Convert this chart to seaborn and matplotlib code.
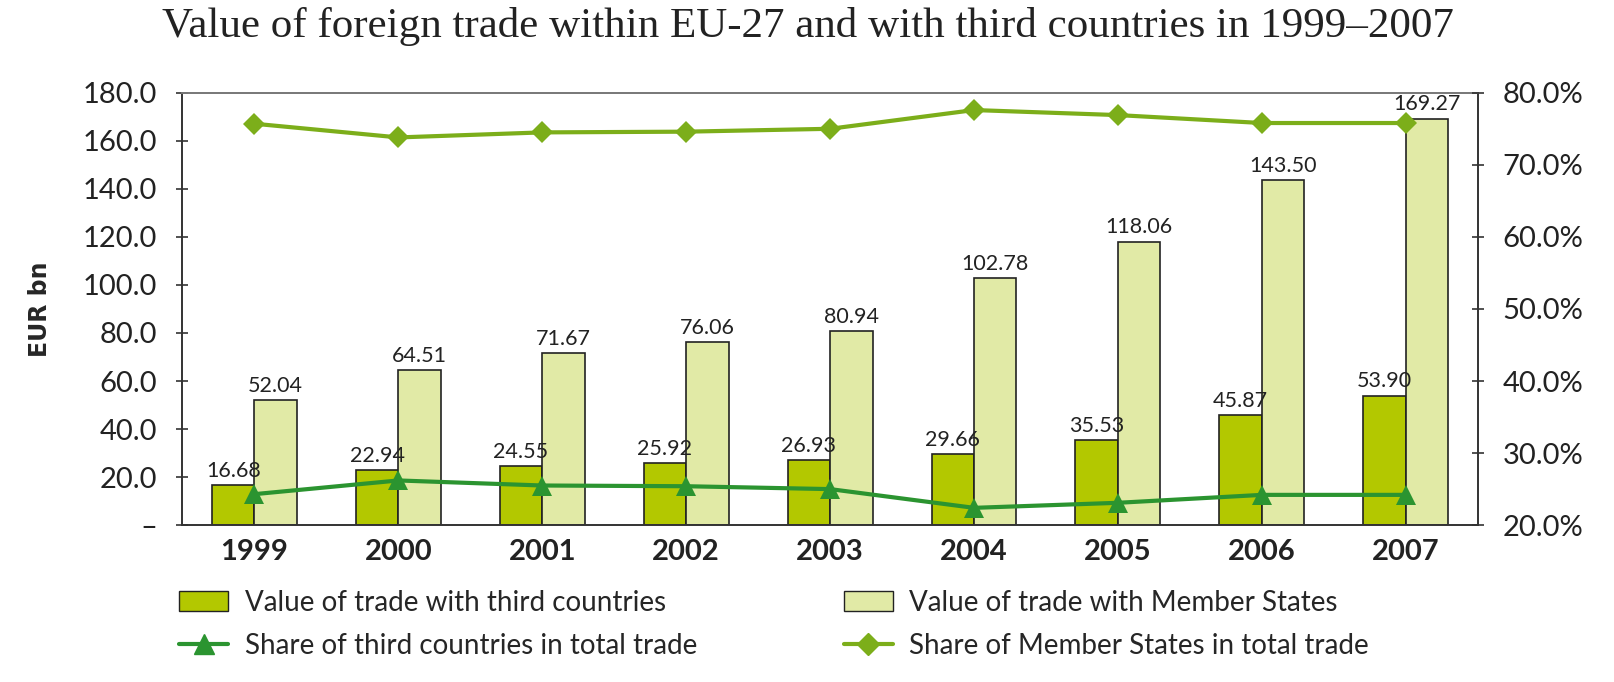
import numpy as np
import pandas as pd
import seaborn as sns
import matplotlib.pyplot as plt
from matplotlib.ticker import FixedLocator, FuncFormatter
from matplotlib.patches import Patch
from matplotlib.lines import Line2D

# data
years = ['1999', '2000', '2001', '2002', '2003', '2004', '2005', '2006', '2007']
third_countries = [16.68, 22.94, 24.55, 25.92, 26.93, 29.66, 35.53, 45.87, 53.90]
member_states = [52.04, 64.51, 71.67, 76.06, 80.94, 102.78, 118.06, 143.50, 169.27]
share_third = [24.3, 26.2, 25.5, 25.4, 25.0, 22.4, 23.1, 24.2, 24.2]
share_member = [75.7, 73.8, 74.5, 74.6, 75.0, 77.6, 76.9, 75.8, 75.8]

lbl_third = 'Value of trade with third countries'
lbl_member = 'Value of trade with Member States'
lbl_share_third = 'Share of third countries in total trade'
lbl_share_member = 'Share of Member States in total trade'

c_dark, c_light = '#b3c800', '#e1eaa6'
c_line_third, c_line_member = '#2b9430', '#7cae1a'

sns.set_style('white')
plt.rcParams['font.family'] = ['Lato', 'DejaVu Sans']

df = pd.DataFrame({
    'year': years * 2,
    'value': third_countries + member_states,
    'series': [lbl_third] * len(years) + [lbl_member] * len(years),
})

fig = plt.figure(figsize=(16.15, 6.82), dpi=100)
ax = fig.add_axes([0.113, 0.230, 0.802, 0.634])

sns.barplot(data=df, x='year', y='value', hue='series', ax=ax,
            palette=[c_dark, c_light], width=0.59, edgecolor='#222222',
            linewidth=1.2, saturation=1, legend=False)

for cont in ax.containers:
    ax.bar_label(cont, fmt='%.2f', fontsize=15.5, padding=3, color='#222222')

ax.set_ylim(0, 180)
ax.set_xlim(-0.5, len(years) - 0.5)
ax.set_yticks(np.arange(0, 181, 20))
ax.yaxis.set_major_formatter(FuncFormatter(lambda v, p: '–' if v == 0 else f'{v:.1f}'))
ax.set_xlabel('')
ax.set_ylabel('EUR bn', fontsize=17, fontweight='bold', family='DejaVu Sans', labelpad=22)
ax.tick_params(axis='y', labelsize=21, direction='inout', length=8, width=1.2, pad=14,
               colors='#333333', labelcolor='#222222')
ax.tick_params(axis='x', which='major', labelsize=21, length=0, pad=10, labelcolor='#222222')
ax.xaxis.set_minor_locator(FixedLocator(np.arange(0.5, len(years) - 1, 1)))
ax.tick_params(axis='x', which='minor', direction='inout', length=8, width=1.2, colors='#333333')
for lab in ax.get_xticklabels():
    lab.set_fontweight('bold')

for side in ['left', 'bottom', 'right']:
    ax.spines[side].set_color('#333333')
    ax.spines[side].set_linewidth(1.4)
ax.spines['top'].set_color('#777777')
ax.spines['top'].set_linewidth(1.4)

ax2 = ax.twinx()
xs = np.arange(len(years))
sns.lineplot(x=xs, y=share_third, ax=ax2, color=c_line_third, marker='^',
             markersize=14, markeredgewidth=0, linewidth=3)
sns.lineplot(x=xs, y=share_member, ax=ax2, color=c_line_member, marker='D',
             markersize=11, markeredgewidth=0, linewidth=3)
ax2.set_ylim(20, 80)
ax2.set_yticks(np.arange(20, 81, 10))
ax2.yaxis.set_major_formatter(FuncFormatter(lambda v, p: f'{v:.1f}%'))
ax2.tick_params(axis='y', labelsize=21, direction='inout', length=8, width=1.2, pad=14,
                colors='#333333', labelcolor='#222222')
for s in ax2.spines.values():
    s.set_visible(False)

fig.suptitle('Value of foreign trade within EU-27 and with third countries in 1999–2007',
             family='Liberation Serif', fontsize=31, y=0.99, color='#222222')

handles = [
    Patch(facecolor=c_dark, edgecolor='#222222', label=lbl_third),
    Line2D([], [], color=c_line_third, marker='^', markersize=14, lw=3, label=lbl_share_third),
    Patch(facecolor=c_light, edgecolor='#222222', label=lbl_member),
    Line2D([], [], color=c_line_member, marker='D', markersize=11, lw=3, label=lbl_share_member),
]
fig.legend(handles=handles, ncol=2, loc='upper left', bbox_to_anchor=(0.111, 0.135),
           frameon=False, fontsize=20, columnspacing=5.3, handlelength=1.75,
           handletextpad=0.6, labelspacing=0.6, borderpad=0, borderaxespad=0)

fig.savefig('out.png', dpi=100)
